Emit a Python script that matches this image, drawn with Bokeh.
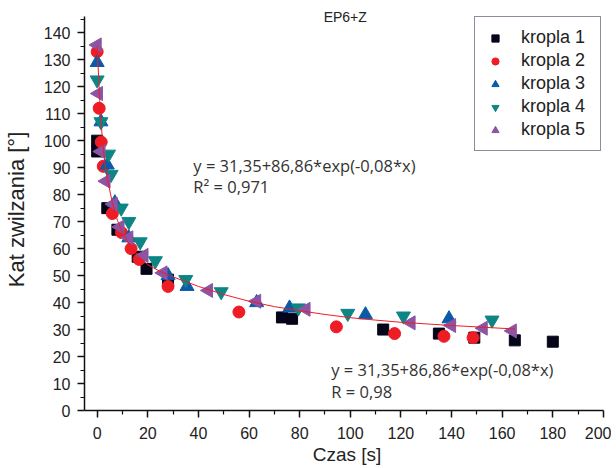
import math
from bokeh.plotting import figure
from bokeh.models import Range1d, FixedTicker, Label, Legend, LegendItem
from bokeh.embed import file_html
from bokeh.resources import INLINE

# ---- data ----
k1_x = [0, 0, 4, 8, 16, 19.5, 28, 73, 77, 113, 135, 149, 165, 180]
k1_y = [100, 96, 75, 67, 57, 52.5, 48.5, 34.5, 34, 30, 28.5, 27, 26, 25.5]

k2_x = [0, 0.8, 1.6, 2.4, 6, 9.6, 13.4, 16.6, 28, 56, 94.5, 117.5, 137, 148.5]
k2_y = [133, 112, 99.5, 90.5, 73, 66, 60, 56, 46, 36.5, 31, 28.5, 27.5, 27]

k3_x = [0, 1.5, 4, 7, 12.5, 28, 35.5, 63, 76, 106, 139]
k3_y = [129, 107, 91, 77, 64, 50, 46, 40, 38, 35.5, 34]

k4_x = [0, 1.5, 4.5, 5.5, 9.5, 12.5, 17, 23, 35, 49, 79.5, 99, 121, 156]
k4_y = [122.5, 107, 95, 87.5, 75, 70, 62.5, 55.5, 48.5, 44, 38, 36, 35, 33.5]

k5_x = [0, 0.5, 1.5, 3.5, 6.3, 9, 12.5, 18.5, 26, 44, 63, 82.5, 124, 140, 152.5, 164]
k5_y = [135.5, 117.5, 96, 85, 76.5, 68, 64, 57.5, 51, 44.5, 40.5, 37.5, 32.5, 31.5, 30.5, 29.5]

fit_x = [0, 1, 2, 3, 4, 6, 8, 10, 13, 16, 20, 25, 30, 40, 50, 60, 70, 80, 90,
         100, 110, 120, 130, 140, 150, 165]
fit_y = [135, 115, 101, 92, 86, 77, 70.5, 66, 61, 57.5, 54, 51.5, 49.5, 46, 43,
         40.5, 38.5, 37, 35.6, 34.4, 33.5, 32.7, 32.1, 31.5, 31, 30.2]

series_names = ["kropla 1", "kropla 2", "kropla 3", "kropla 4", "kropla 5"]
x_ticks = [0, 20, 40, 60, 80, 100, 120, 140, 160, 180, 200]
y_ticks = [0, 10, 20, 30, 40, 50, 60, 70, 80, 90, 100, 110, 120, 130, 140]

eq_text = "y = 31,35+86,86*exp(-0,08*x)"
r2_text = "R\u00b2 = 0,971"
r_text = "R = 0,98"
title_text = "EP6+Z"

FONT = "Liberation Sans"
ANN_FONT = "Open Sans"

p = figure(frame_width=525, frame_height=402, output_backend="svg", toolbar_location=None,
           x_range=Range1d(-5, 202.4), y_range=Range1d(0, 149),
           min_border_left=84, min_border_right=2, min_border_top=8,
           min_border_bottom=40)
p.outline_line_color = None
p.grid.visible = False
p.background_fill_color = "white"
p.border_fill_color = "white"

for ax in (p.xaxis[0], p.yaxis[0]):
    ax.axis_line_width = 1.5
    ax.axis_line_color = "#111111"
    ax.major_tick_line_color = "#111111"
    ax.minor_tick_line_color = "#111111"
    ax.major_tick_line_width = 1.5
    ax.minor_tick_line_width = 1.2
    ax.major_tick_out = 7
    ax.major_tick_in = 0
    ax.minor_tick_out = 4
    ax.minor_tick_in = 0
    ax.major_label_text_font = FONT
    ax.major_label_text_font_size = "16px"
    ax.major_label_text_color = "#222222"
    ax.axis_label_text_font = FONT
    ax.axis_label_text_font_style = "normal"
    ax.axis_label_text_color = "#222222"

p.xaxis[0].bounds = (-5, 200)
p.yaxis[0].bounds = (0, 146)
p.xaxis[0].ticker = FixedTicker(ticks=x_ticks, minor_ticks=[t + 10 for t in x_ticks[:-1]])
p.yaxis[0].ticker = FixedTicker(ticks=y_ticks, minor_ticks=[t + 5 for t in y_ticks])
p.xaxis[0].major_label_standoff = 9
p.yaxis[0].major_label_standoff = 7
p.xaxis[0].axis_label = "Czas [s]"
p.xaxis[0].axis_label_text_font_size = "19px"
p.xaxis[0].axis_label_standoff = 2
p.yaxis[0].axis_label = "Kat zwilzania [\u00b0]"
p.yaxis[0].axis_label_text_font_size = "22px"
p.yaxis[0].axis_label_standoff = 12

colors = ["#05051a", "#ee1c25", "#0a5aa8", "#0e8585", "#8d54a3"]
r1 = p.scatter(k1_x, k1_y, marker="square", size=11, color=colors[0])
r2 = p.scatter(k2_x, k2_y, marker="circle", size=12, color=colors[1])
r3 = p.scatter(k3_x, k3_y, marker="triangle", size=14, color=colors[2])
r4 = p.scatter(k4_x, k4_y, marker="inverted_triangle", size=14, color=colors[3])
r5 = p.scatter(k5_x, k5_y, marker="triangle", angle=math.pi / 2, size=14, color=colors[4])

p.line(fit_x, fit_y, line_color="#ee1c25", line_width=1)

legend = Legend(items=[LegendItem(label=n, renderers=[r]) for n, r in
                       zip(series_names, [r1, r2, r3, r4, r5])],
                location="top_right")
legend.margin = 8
legend.padding = 10
legend.spacing = 2
legend.glyph_width = 20
legend.glyph_height = 18
legend.label_height = 18
legend.label_width = 69
legend.label_standoff = 16
legend.label_text_font = FONT
legend.label_text_font_size = "18px"
legend.label_text_color = "#222222"
legend.border_line_color = "#1a1a3a"
legend.border_line_width = 1
legend.background_fill_alpha = 1
p.add_layout(legend)

p.add_layout(Label(x=98, y=146, text=title_text, text_font=FONT, text_font_size="14px",
                   text_align="center", text_baseline="middle", text_color="#222222"))
p.add_layout(Label(x=38, y=90.7, text=eq_text, text_font=ANN_FONT, text_font_size="16.5px",
                   text_baseline="middle", text_color="#333333"))
p.add_layout(Label(x=38, y=83, text=r2_text, text_font=ANN_FONT, text_font_size="16.5px",
                   text_baseline="middle", text_color="#333333"))
p.add_layout(Label(x=92.5, y=15.2, text=eq_text, text_font=ANN_FONT, text_font_size="16.5px",
                   text_baseline="middle", text_color="#333333"))
p.add_layout(Label(x=92.5, y=7, text=r_text, text_font=ANN_FONT, text_font_size="16.5px",
                   text_baseline="middle", text_color="#333333"))

open("out.html", "w").write(file_html(p, INLINE))
